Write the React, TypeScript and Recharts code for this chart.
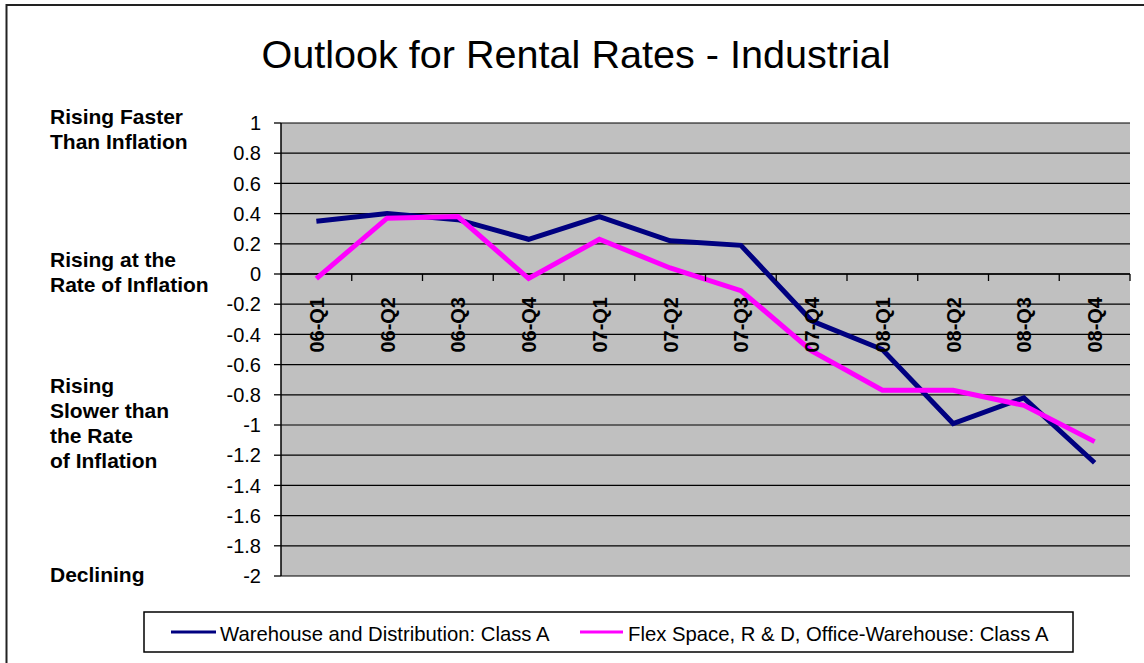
import { LineChart, Line, XAxis, YAxis, CartesianGrid, ReferenceLine, ReferenceDot, ReferenceArea } from "recharts";

const quarters = ["06-Q1", "06-Q2", "06-Q3", "06-Q4", "07-Q1", "07-Q2", "07-Q3", "07-Q4", "08-Q1", "08-Q2", "08-Q3", "08-Q4"];
const warehouse = [0.35, 0.4, 0.36, 0.23, 0.38, 0.22, 0.19, -0.31, -0.5, -0.99, -0.82, -1.25];
const flex = [-0.03, 0.37, 0.38, -0.03, 0.23, 0.04, -0.11, -0.51, -0.77, -0.77, -0.87, -1.11];
const yTicks = [1, 0.8, 0.6, 0.4, 0.2, 0, -0.2, -0.4, -0.6, -0.8, -1, -1.2, -1.4, -1.6, -1.8, -2];
const seriesNames = ["Warehouse and Distribution: Class A", "Flex Space, R & D, Office-Warehouse: Class A"];
const seriesColors = ["#000080", "#FF00FF"];
const title = "Outlook for Rental Rates - Industrial";
const sideNotes = [
  ["Rising Faster", "Than Inflation"],
  ["Rising at the", "Rate of Inflation"],
  ["Rising", "Slower than", "the Rate", "of Inflation"],
  ["Declining"],
];

const data = quarters.map((q, i) => ({ q, warehouse: warehouse[i], flex: flex[i] }));

const W = 1144;
const H = 663;
const margin = { top: 123, right: 14, bottom: 87, left: 221 };
const Y_AXIS_W = 60;
const plotW = W - margin.left - Y_AXIS_W - margin.right;
const band = plotW / quarters.length;
const font = "'Liberation Sans', Arial, sans-serif";

// label + boundary tick hanging under the zero line
const QuarterMark = ({ cx, cy, text }: any) => (
  <g>
    <line x1={cx + band / 2} y1={cy} x2={cx + band / 2} y2={cy + 7} stroke="#000" strokeWidth={1.3} />
    <text
      transform={`translate(${cx + 7.5},${cy + 23}) rotate(-90)`}
      textAnchor="end"
      fontSize={20}
      fontWeight="bold"
      fontFamily={font}
      fill="#000"
    >
      {text}
    </text>
  </g>
);

const noteTops = [124, 267, 393, 582];

export default function App() {
  return (
    <div style={{ position: "absolute", left: 0, top: 0, width: W, height: H, background: "#fff" }}>
      <LineChart width={W} height={H} data={data} margin={margin}>
        <CartesianGrid vertical={false} stroke="#000" strokeWidth={1.2} fill="#C0C0C0" fillOpacity={1} />
        <XAxis dataKey="q" scale="band" hide />
        <YAxis
          domain={[-2, 1]}
          ticks={yTicks}
          interval={0}
          width={Y_AXIS_W}
          tickSize={7}
          tickMargin={13}
          axisLine={{ stroke: "#000", strokeWidth: 1.5 }}
          tickLine={{ stroke: "#000", strokeWidth: 1.3 }}
          tick={{ fill: "#000", fontSize: 20, fontFamily: font }}
        />
        <ReferenceArea fill="none" stroke="#808080" strokeWidth={2} ifOverflow="visible" />
        <ReferenceLine y={0} stroke="#000" strokeWidth={1.5} />
        {quarters.map((q) => (
          <ReferenceDot
            key={q}
            x={q}
            y={0}
            r={0}
            ifOverflow="visible"
            shape={(p: any) => <QuarterMark {...p} text={q} />}
          />
        ))}
        <Line dataKey="warehouse" name={seriesNames[0]} stroke={seriesColors[0]} strokeWidth={5} dot={false} isAnimationActive={false} strokeLinejoin="miter" />
        <Line dataKey="flex" name={seriesNames[1]} stroke={seriesColors[1]} strokeWidth={5} dot={false} isAnimationActive={false} strokeLinejoin="miter" />
      </LineChart>
      <svg width={W} height={H} style={{ position: "absolute", left: 0, top: 0, pointerEvents: "none" }}>
        <rect x={6.5} y={5} width={W} height={H} fill="none" stroke="#222" strokeWidth={2} />
        <text x={576} y={68} textAnchor="middle" fontSize={39.6} fontFamily={font} fill="#000">
          {title}
        </text>
        {sideNotes.map((lines, i) =>
          lines.map((s, j) => (
            <text key={`${i}-${j}`} x={50} y={noteTops[i] + j * 25} fontSize={21} fontWeight="bold" fontFamily={font} fill="#000">
              {s}
            </text>
          ))
        )}
        <rect x={144} y={612} width={929} height={40} fill="#fff" stroke="#000" strokeWidth={1.5} />
        <line x1={171} y1={632} x2={216} y2={632} stroke={seriesColors[0]} strokeWidth={3} />
        <text x={220} y={641} fontSize={20.3} fontFamily={font} fill="#000">{seriesNames[0]}</text>
        <line x1={580} y1={632} x2={623} y2={632} stroke={seriesColors[1]} strokeWidth={3} />
        <text x={628} y={641} fontSize={20.3} fontFamily={font} fill="#000">{seriesNames[1]}</text>
      </svg>
    </div>
  );
}
